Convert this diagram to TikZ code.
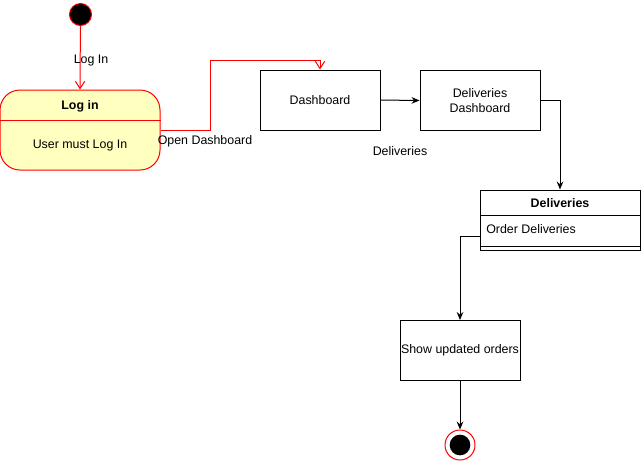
\documentclass[tikz,border=0pt]{standalone}
\usepackage{fontspec}
\setmainfont{Liberation Sans}
\usetikzlibrary{arrows.meta}
\definecolor{stateyellow}{RGB}{255,255,192}
\tikzset{
  box/.style={draw=black, line width=0.75pt, minimum width=90pt, minimum height=45pt, inner sep=0pt, align=center},
  lbl/.style={inner sep=0pt, font=\fontsize{9.3pt}{11.5pt}\selectfont},
  redline/.style={draw=red, line width=0.75pt, -{Straight Barb[length=5.5pt,width=7pt]}},
  blkline/.style={draw=black, line width=0.75pt, -{Stealth[length=6pt,width=5pt,inset=2pt]}},
}
\begin{document}
\begin{tikzpicture}[x=0.75pt,y=-0.75pt, font=\fontsize{9.3pt}{11.5pt}\selectfont]
\useasboundingbox (0,0) rectangle (641,462);
% start
\node[circle, fill=black, draw=red, line width=0.75pt, minimum size=16.5pt, inner sep=0pt] (start) at (80.5,14.5) {};
% login state
\node[draw=red, fill=stateyellow, line width=0.75pt, rounded corners=15pt, minimum width=120pt, minimum height=60pt, inner sep=0pt] (login) at (80,130) {};
\draw[red, line width=0.75pt] ([yshift=7.5pt]login.west) -- ([yshift=7.5pt]login.east);
\node[lbl, font=\fontsize{9.3pt}{11.5pt}\selectfont\bfseries] (logint) at (80,106.5) {Log in};
\node[lbl] (loginb) at (80,146) {User must Log In};
% boxes
\node[box] (dash) at (320,100) {Dashboard};
\node[box, text width=90pt] (dd) at (480,100.5) {Deliveries\\Dashboard};
\node[box, minimum width=120pt, minimum height=45pt] (cls) at (560,220) {};
\draw[line width=0.75pt] (cls.west |- 0,215) -- (cls.east |- 0,215);
\draw[line width=0.75pt] (cls.west |- 0,246) -- (cls.east |- 0,246);
\node[lbl, font=\fontsize{9.3pt}{11.5pt}\selectfont\bfseries] (clst) at (560,203.5) {Deliveries};
\node[lbl, anchor=west] (od) at (486,229.5) {Order Deliveries};
\node[box] (show) at (460,350.5) {Show updated orders};
% end
\node[circle, draw=red, line width=0.75pt, minimum size=22.5pt, inner sep=0pt] (endo) at (460,445) {};
\node[circle, fill=black, minimum size=15.5pt, inner sep=0pt] (endi) at (460,445) {};
% coordinates
\coordinate (b1) at (210,60);
\coordinate (odp) at (480,236);
% connectors
\draw[redline] (start) -- (login.north);
\node[lbl] (l1) at (91,61) {Log In};
\draw[redline] (login.east) -| (b1) -| (dash.north);
\node[lbl] (l2) at (205,141) {Open Dashboard};
\draw[blkline] (dash.east) -- (dd.west);
\node[lbl] (l3) at (400,151.5) {Deliveries};
\draw[blkline] (dd.east) -| (cls.north);
\draw[blkline] (odp) -| (show.north);
\draw[blkline] (show.south) -- (endo.north);
\end{tikzpicture}
\end{document}
